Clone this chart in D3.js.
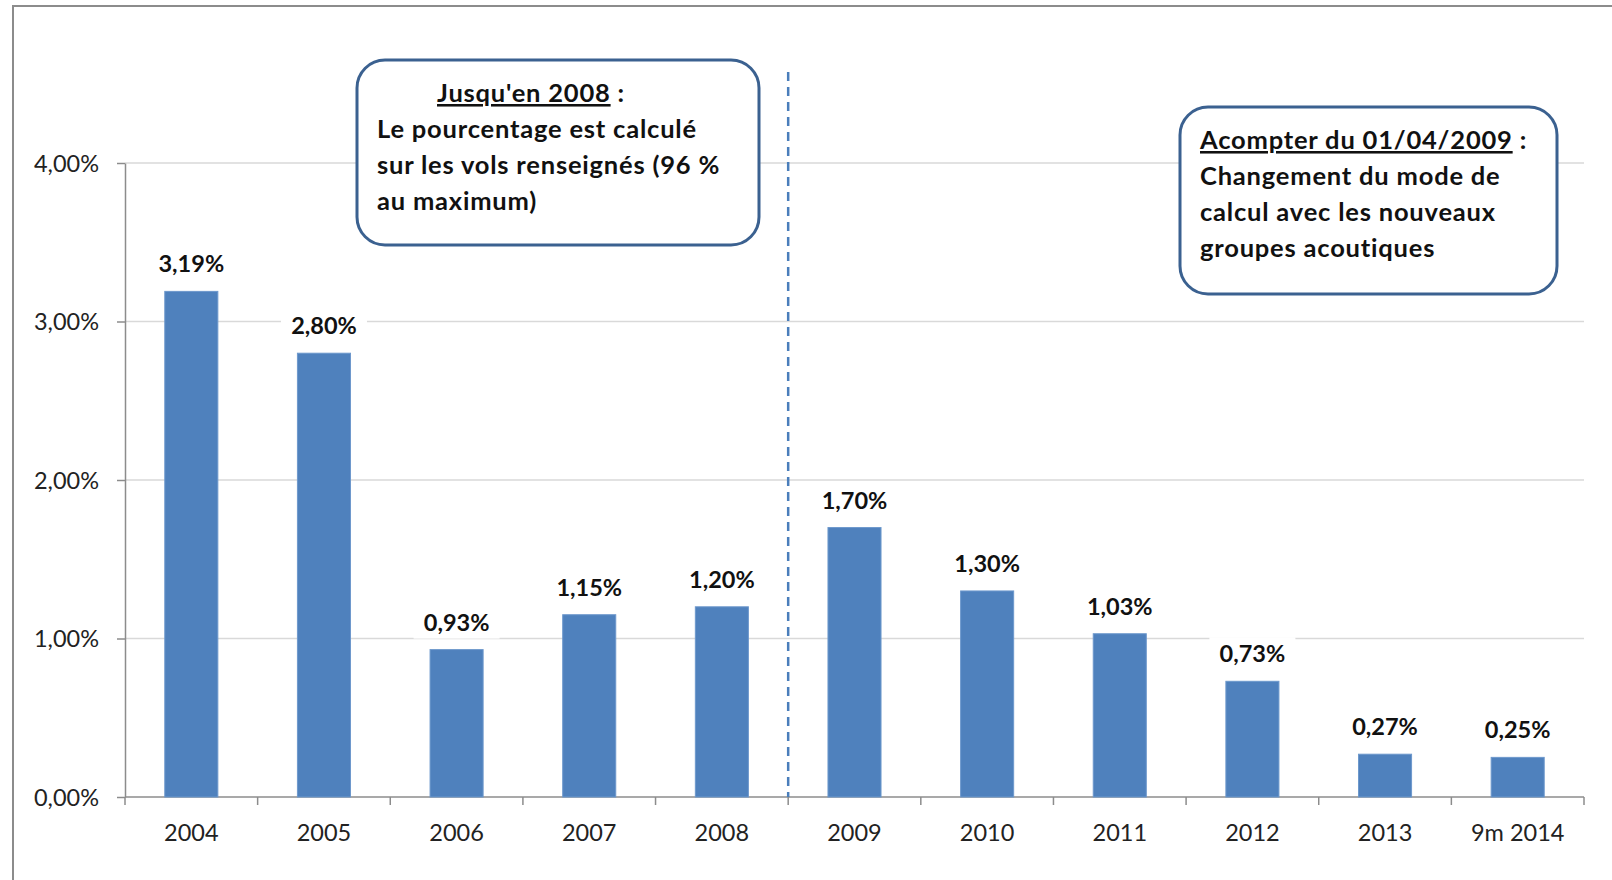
<html>
<head>
<meta charset="utf-8">
<script src="https://cdn.jsdelivr.net/npm/d3@7/dist/d3.min.js"></script>
<style>
  body { margin: 0; background: #fff; }
  text { font-family: Lato, "Open Sans", sans-serif; fill: #222; }
  .grid line { stroke: #d9d9d9; stroke-width: 1.5; }
  .axis path, .axis line { stroke: #8c8c8c; stroke-width: 1.5; }
  .note text { font-weight: bold; font-size: 25.5px; letter-spacing: 0.8px; fill: #111; }
</style>
</head>
<body>
<svg width="1612" height="880" id="chart"></svg>
<script>
// data
var years = ["2004", "2005", "2006", "2007", "2008", "2009", "2010", "2011", "2012", "2013", "9m 2014"];
var rates = [3.19, 2.80, 0.93, 1.15, 1.20, 1.70, 1.30, 1.03, 0.73, 0.27, 0.25];
var yTicks = [0, 1, 2, 3, 4];
var noteLeft = ["Le pourcentage est calculé", "sur les vols renseignés (96 %", "au maximum)"];
var noteRight = ["Changement du mode de", "calcul avec les nouveaux", "groupes acoutiques"];

var svg = d3.select("#chart");
var fmt = function(v) { return v.toFixed(2).replace(".", ",") + "%"; };

var x = d3.scaleBand().domain(years).range([125, 1584]).paddingInner(0.6).paddingOuter(0.3);
var xb = d3.scaleBand().domain(years).range([125, 1584]);
var y = d3.scaleLinear().domain([0, 4]).range([797, 163]);

// frame (cropped, only top and left visible)
svg.append("path")
  .attr("d", "M13,880 L13,6 L1612,6")
  .attr("fill", "none")
  .attr("stroke", "#8c8c8c")
  .attr("stroke-width", 2);

// gridlines
svg.append("g").attr("class", "grid")
  .selectAll("line")
  .data(yTicks.slice(1))
  .enter().append("line")
  .attr("x1", 125).attr("x2", 1584)
  .attr("y1", function(d) { return y(d); })
  .attr("y2", function(d) { return y(d); });

// y axis
var yAxis = svg.append("g").attr("class", "axis")
  .attr("transform", "translate(125,0)")
  .call(d3.axisLeft(y).tickValues(yTicks).tickFormat(fmt).tickSize(8).tickSizeOuter(0).tickPadding(18));
yAxis.selectAll("text").style("font-size", "23.5px").attr("dy", "0.36em");

// x axis with ticks between categories
var xAxis = svg.append("g").attr("class", "axis")
  .attr("transform", "translate(0,797)");
xAxis.append("line").attr("x1", 125).attr("x2", 1584);
xAxis.selectAll("line.tk")
  .data(years.concat(["end"]))
  .enter().append("line")
  .attr("class", "tk")
  .attr("x1", function(d, i) { return 125 + i * xb.step(); })
  .attr("x2", function(d, i) { return 125 + i * xb.step(); })
  .attr("y1", 0).attr("y2", 8);
xAxis.selectAll("text")
  .data(years)
  .enter().append("text")
  .attr("x", function(d) { return xb(d) + xb.bandwidth() / 2; })
  .attr("y", 44)
  .attr("text-anchor", "middle")
  .style("font-size", "23.5px")
  .text(function(d) { return d; });

// dashed separator between 2008 and 2009
svg.append("line")
  .attr("x1", xb("2009")).attr("x2", xb("2009"))
  .attr("y1", 72).attr("y2", 797)
  .attr("stroke", "#4a7ebb")
  .attr("stroke-width", 2.5)
  .attr("stroke-dasharray", "9,6");

// bars
svg.append("g")
  .selectAll("rect")
  .data(rates)
  .enter().append("rect")
  .attr("x", function(d, i) { return x(years[i]); })
  .attr("width", x.bandwidth())
  .attr("y", function(d) { return y(d); })
  .attr("height", function(d) { return y(0) - y(d); })
  .attr("fill", "#4f81bd")
  .attr("stroke", "#6d98cc")
  .attr("stroke-width", 1);

// data labels with white background
var lab = svg.append("g")
  .selectAll("g")
  .data(rates)
  .enter().append("g")
  .attr("transform", function(d, i) {
    return "translate(" + (xb(years[i]) + xb.bandwidth() / 2) + "," + (y(d) - 19) + ")";
  });
lab.append("rect")
  .attr("x", -43).attr("y", -25).attr("width", 86).attr("height", 33)
  .attr("fill", "#fff");
lab.append("text")
  .attr("text-anchor", "middle")
  .style("font-size", "23.5px")
  .style("font-weight", "bold")
  .style("fill", "#111")
  .text(fmt);

// annotation boxes
function note(bx, by, bw, bh, head, headX, textX, baseY, lines) {
  var g = svg.append("g").attr("class", "note");
  g.append("rect")
    .attr("x", bx).attr("y", by).attr("width", bw).attr("height", bh)
    .attr("rx", 28).attr("ry", 28)
    .attr("fill", "#fff")
    .attr("stroke", "#3b6190")
    .attr("stroke-width", 3);
  var t = g.append("text").attr("x", headX).attr("y", baseY);
  t.append("tspan").style("text-decoration", "underline").text(head);
  t.append("tspan").text(" :");
  lines.forEach(function(l, i) {
    g.append("text").attr("x", textX).attr("y", baseY + 36 * (i + 1)).text(l);
  });
}
note(357, 60, 402, 185, "Jusqu'en 2008", 437, 377, 102, noteLeft);
note(1180, 107, 377, 187, "Acompter du 01/04/2009", 1200, 1200, 149, noteRight);
</script>
</body>
</html>
